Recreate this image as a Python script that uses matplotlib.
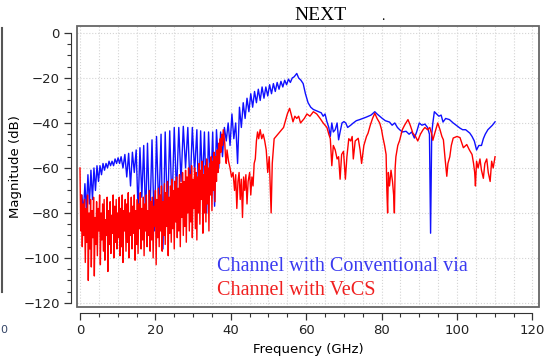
import numpy as np
import matplotlib
matplotlib.use("Agg")
import matplotlib.pyplot as plt
from matplotlib.patches import Rectangle
from matplotlib.ticker import MultipleLocator

# --- data ---
# Conventional via (blue): frequency in GHz, magnitude in dB
blue_f = [0.2, 0.5, 0.9, 1.3, 1.7, 2.1, 2.5, 2.9, 3.3, 3.7, 4.1, 4.5, 4.9, 5.3, 5.7, 6.1,
          6.5, 6.9, 7.3, 7.7, 8.1, 8.5, 8.9, 9.3, 9.7, 10.1, 10.5, 10.9, 11.4, 11.9, 12.4,
          12.9, 13.4, 13.9, 14.4, 14.9, 15.4, 15.9, 16.4, 16.9, 17.4, 17.9, 18.5, 19.1,
          19.7, 20.3, 20.9, 21.5, 22.0, 22.6, 23.2, 23.8, 24.4, 25.0, 25.6, 26.2, 26.8,
          27.4, 28.0, 28.6, 29.2, 29.8, 30.4, 31.0, 31.5, 32.0, 32.5, 33.0, 33.6, 34.1,
          34.7, 35.2, 35.7, 36.2, 36.8, 37.3, 37.8, 38.3, 38.8, 39.3, 39.8, 40.3, 40.8,
          41.3, 41.8, 42.3, 42.8, 43.3, 43.8, 44.3, 44.8, 45.3, 45.8, 46.3, 46.8, 47.3,
          47.8, 48.3, 48.8, 49.3, 49.8, 50.3, 50.8, 51.3, 51.8, 52.3, 52.8, 53.3, 53.8,
          54.3, 54.8, 55.3, 55.8, 56.3, 56.8, 57.5, 58.0, 58.6, 59.2, 59.8, 60.5, 61.2,
          61.9, 62.6, 63.3, 64.0, 64.5, 65.0, 65.5, 66.0, 66.4, 66.8, 67.2, 67.7, 68.2,
          68.6, 69.0, 69.5, 70.0, 70.5, 71.0, 71.8, 72.5, 73.3, 74.2, 75.0, 75.8, 76.5,
          77.2, 78.2, 78.8, 79.5, 80.2, 81.0, 82.1, 82.8, 83.5, 84.2, 84.8, 85.5, 86.5,
          87.3, 88.0, 88.7, 89.3, 90.0, 90.7, 91.5, 92.2, 92.7, 93.0, 93.3, 93.6, 94.0,
          94.6, 95.2, 95.8, 96.3, 97.0, 98.0, 99.0, 99.8, 100.8, 101.5, 102.3, 103.4,
          104.0, 104.6, 105.2, 105.8, 106.5, 107.0, 107.5, 108.2, 108.8, 109.4, 110.1]
blue_db = [-86, -72, -80, -67, -79, -63, -76, -61, -74, -60, -70, -59, -66, -59, -63, -58,
           -61, -58, -60, -57, -59, -57, -59, -56, -58, -55.5, -58, -55, -60, -54, -64,
           -53.5, -68, -53, -62, -52, -79, -51, -73, -50, -83, -49, -85, -47.5,
           -88, -46, -80, -45, -96, -44, -83, -43.5, -78, -42, -72, -42, -66,
           -41.5, -60, -42, -70, -42, -62, -43, -77, -43.5, -68, -44, -80, -44,
           -70, -44, -77, -43, -60, -44, -55, -42, -48, -40, -50, -36, -47,
           -40, -58, -33, -42, -31, -38, -29, -35, -27, -33, -26, -31, -25,
           -30, -24, -29, -24, -28, -23, -27, -22.5, -26, -22, -25, -21.5, -24,
           -21, -23, -20.5, -22, -20, -19.5, -18, -20, -21, -22.5, -27, -31, -33,
           -34, -34.5, -35, -35.5, -37, -36, -39.4, -42, -46, -40, -44, -43, -40,
           -47.5, -44, -40, -39.4, -40, -42, -41, -40, -39, -38.5, -38, -37.5, -37,
           -36.5, -35, -36, -37, -38, -39, -39.6, -41, -40, -42, -43, -44, -43.7,
           -45, -44, -46.7, -44, -40, -41, -40.5, -42, -45, -89, -45, -40, -35,
           -36, -37, -36.5, -39.6, -38, -38.5, -40, -41, -42.3, -43, -43, -44.5,
           -46, -48, -52, -50, -50, -47, -45, -43, -42, -41, -39.5]

# VeCS (red): dense sweep from 0 GHz every 0.2 GHz, then a sparser tail
red_sweep_step = 0.2
red_sweep_db = [-60, -88, -72, -95, -76,
                -90, -74, -102, -78, -93,
                -72, -110, -80, -96, -74,
                -104, -79, -91, -73, -108,
                -82, -94, -75, -99, -78,
                -88, -72, -103, -80, -92,
                -76, -97, -74, -101, -83,
                -90, -73, -106, -79, -94,
                -75, -98, -81, -89, -72,
                -100, -77, -93, -74, -96,
                -80, -91, -73, -99, -78,
                -95, -72, -102, -79, -88,
                -74, -97, -76, -93, -71,
                -100, -80, -90, -73, -96,
                -77, -89, -72, -101, -79,
                -94, -74, -98, -76, -87,
                -71, -96, -78, -92, -73,
                -99, -76, -88, -72, -95,
                -79, -90, -70, -97, -75,
                -92, -73, -100, -77, -86,
                -70, -103, -74, -91, -69,
                -95, -72, -88, -68, -97,
                -75, -90, -67, -94, -71,
                -86, -66, -99, -73, -89,
                -68, -93, -65, -87, -70,
                -96, -66, -84, -64, -91,
                -69, -88, -63, -95, -67,
                -82, -62, -90, -66, -86,
                -61, -93, -64, -80, -60,
                -88, -63, -84, -59, -91,
                -65, -78, -60, -87, -62,
                -92, -64, -80, -58, -85,
                -61, -74, -57, -89, -63,
                -80, -59, -84, -56, -76,
                -60, -88, -58, -72, -55,
                -79, -57, -70, -53, -75,
                -55, -66, -52, -62, -49,
                -58, -47, -53, -45, -50,
                -43, -46, -49, -55, -58]
red_tail_f = [39.0, 39.4, 39.8, 40.2, 40.6, 41.0, 41.3, 41.6, 41.9, 42.2, 42.5, 42.8, 43.1,
              43.4, 43.7, 44.0, 44.3, 44.6, 45.0, 45.3, 45.6, 45.9, 46.2, 46.5, 46.8, 47.1,
              47.4, 47.8, 48.2, 48.6, 49.0, 49.4, 49.8, 50.2, 50.7, 51.0, 51.5, 52.0, 52.5,
              53.0, 53.5, 54.0, 54.5, 55.0, 55.6, 56.0, 56.5, 57.0, 57.5, 58.0, 58.5, 59.0,
              59.5, 60.2, 61.0, 61.9, 62.8, 63.7, 64.5, 65.5, 66.0, 66.4, 66.8, 67.2, 67.7,
              68.2, 68.6, 69.0, 69.4, 69.9, 70.4, 70.8, 71.3, 71.8, 72.2, 72.5, 73.0, 73.8,
              74.3, 74.7, 75.3, 76.0, 76.4, 77.0, 77.6, 78.2, 78.8, 79.5, 80.0, 80.3, 80.8,
              81.2, 81.4, 81.6, 81.8, 82.1, 82.5, 82.9, 83.2, 83.4, 83.6, 83.8, 84.3, 84.8,
              85.5, 86.1, 87.0, 87.6, 88.3, 89.0, 89.6, 90.3, 91.0, 91.5, 92.2, 92.8, 93.3,
              93.6, 94.2, 94.9, 95.5, 96.0, 96.4, 96.8, 97.1, 97.3, 97.6, 98.1, 98.5, 99.0,
              100.0, 100.8, 101.7, 102.6, 103.3, 104.0, 104.4, 104.7, 104.9, 105.2, 105.6,
              106.1, 106.5, 107.0, 107.4, 107.9, 108.3, 108.8, 109.2, 109.6, 110.1]
red_tail_db = [-52, -57, -60, -64, -62, -70, -63, -78, -66, -62, -74, -65, -82,
               -64, -70, -63, -76, -66, -62, -72, -64, -68, -58, -56, -48, -44,
               -47, -43, -47, -45, -48, -52, -62, -55, -80, -58, -47, -46, -45,
               -44, -43, -42, -39, -36, -33.5, -36, -39.5, -37, -38, -37, -40, -39,
               -38, -36, -37, -35, -36, -38, -40, -42, -45, -47, -59, -50, -52,
               -56, -55, -65, -54, -52.6, -65, -55, -47, -48, -46, -56, -48, -46.8,
               -52, -58, -50, -46, -44.6, -41, -38, -35.7, -38, -40, -43, -46, -50,
               -54, -70, -80, -62, -68, -61, -66, -72, -80, -60, -55, -50, -47.7,
               -43, -41, -38.5, -41, -44.5, -46, -48, -45, -43, -42, -43, -42, -45,
               -47.7, -44, -40, -43, -46, -47.5, -55, -60, -63.7, -58, -55, -50, -46.7,
               -46, -46.5, -51, -49.6, -52, -54, -58, -62, -68, -57, -60,
               -56, -61, -64.6, -58, -56, -62, -66, -57, -60, -55]

x_ticks = [0, 20, 40, 60, 80, 100, 120]
y_ticks = [0, -20, -40, -60, -80, -100, -120]

red_f = list(np.arange(len(red_sweep_db)) * red_sweep_step) + red_tail_f
red_db = red_sweep_db + red_tail_db

fig = plt.figure(figsize=(5.48, 3.6), dpi=100)
ax = fig.add_axes([0.1405, 0.1472, 0.843, 0.7806])

ax.plot(blue_f, blue_db, color="#1010ff", lw=1.0, zorder=3)
ax.plot(red_f, red_db, color="#ff0000", lw=1.0, zorder=4)

ax.set_xlim(-0.8, 121.75)
ax.set_ylim(-121.8, 3.1)

ax.set_xticks(x_ticks)
ax.set_yticks(y_ticks)
ax.xaxis.set_minor_locator(MultipleLocator(5))
ax.yaxis.set_minor_locator(MultipleLocator(5))
ax.tick_params(axis="both", which="major", length=5, width=0.9, labelsize=9.5,
               color="#333333", labelcolor="#222222")
ax.tick_params(axis="both", which="minor", length=3, width=0.8, color="#333333")

ax.grid(which="minor", axis="x", color="#d4d4d4", lw=0.8, ls=":")
ax.grid(which="major", axis="x", color="#d4d4d4", lw=0.8, ls=":")
ax.grid(which="major", axis="y", color="#d4d4d4", lw=0.8, ls=":")
ax.set_axisbelow(True)

for side in ["left", "bottom"]:
    ax.spines[side].set_position(("outward", 4))
    ax.spines[side].set_color("#333333")
ax.spines["left"].set_bounds(-120, 0)
ax.spines["bottom"].set_bounds(0, 120)
ax.spines["top"].set_visible(False)
ax.spines["right"].set_visible(False)
ax.add_patch(Rectangle((0, 0), 1, 1, transform=ax.transAxes, fill=False,
                       ec="#666666", lw=1.3, clip_on=False, zorder=5))

ax.set_xlabel("Frequency (GHz)", fontsize=9.5, labelpad=4)
ax.set_ylabel("Magnitude (dB)", fontsize=9.5)
ax.yaxis.set_label_coords(-0.119, 0.5)

ax.text(36.3, -103.6, "Channel with Conventional via", color="#3a3af0",
        family="Liberation Serif", fontsize=14.5, va="center", zorder=6)
ax.text(36.3, -114.4, "Channel with VeCS", color="#f02020",
        family="Liberation Serif", fontsize=14.5, va="center", zorder=6)

fig.text(320 / 548, 1 - 15 / 360, "NEXT", family="Liberation Serif", fontsize=14,
         ha="center", va="center")
fig.text(383 / 548, 1 - 17 / 360, ".", family="Liberation Serif", fontsize=10,
         ha="center", va="center")

# stray edge and digit from the screenshot border
fig.add_artist(plt.Line2D([2 / 548, 2 / 548], [1 - 28 / 360, 1 - 292 / 360],
                          color="#555555", lw=1.5))
fig.text(0.5 / 548, 1 - 330 / 360, "0", fontsize=8, color="#334466", ha="left", va="center")

fig.savefig("out.png", dpi=100)
